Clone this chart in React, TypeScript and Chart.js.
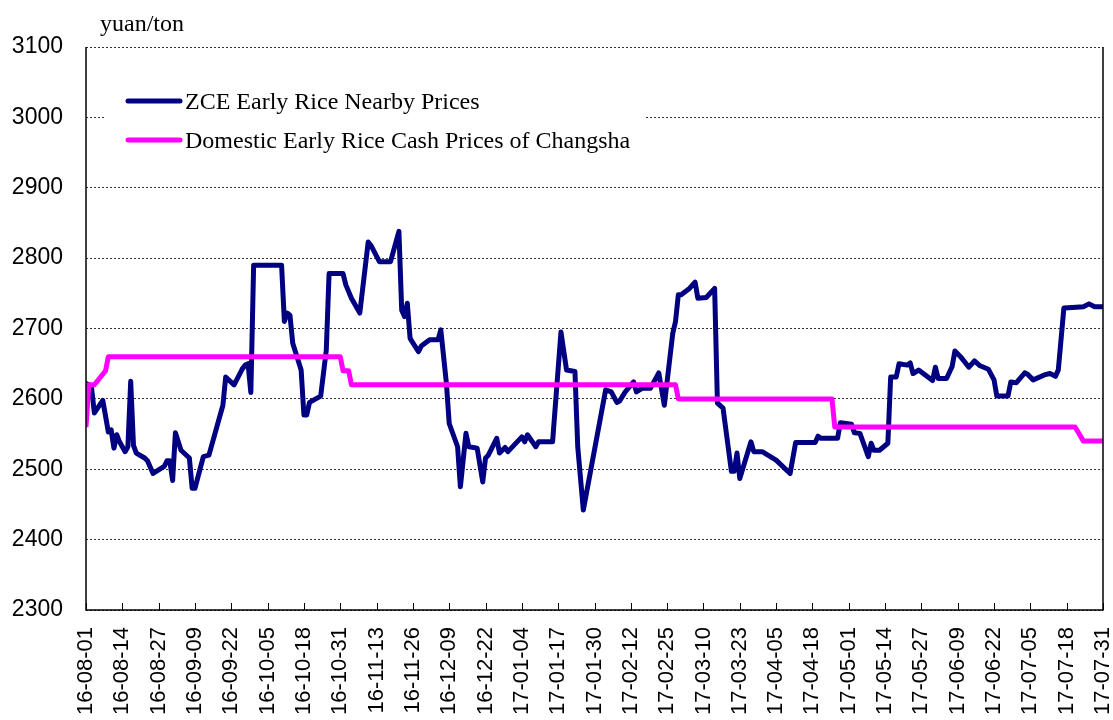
import React, { useEffect, useRef } from "react";
import { Chart, registerables } from "chart.js";

Chart.register(...registerables);

// Day offsets counted from 2016-08-01 (day 0) to 2017-07-31 (day 364)
const BASE_DATE = Date.UTC(2016, 7, 1);
const X_MAX_DAY = 364;
const X_TICK_STEP = 13;

const Y_MIN = 2300;
const Y_MAX = 3100;
const Y_STEP = 100;

const unitLabel = "yuan/ton";
const zceLabel = "ZCE Early Rice Nearby Prices";
const cashLabel = "Domestic Early Rice Cash Prices of Changsha";

const zceDays = [
  0, 1, 2, 3, 6, 8, 9, 10, 11, 12, 14, 15, 16, 17, 18, 21, 22, 24, 28, 29, 30, 31, 32, 34, 37, 38, 39, 42, 44,
  49, 50, 53, 56, 57, 58, 59, 60, 70, 71, 72, 73, 74, 77, 78, 79, 80, 84, 86, 87, 92, 93, 95, 98, 101, 102,
  105, 109, 112, 113, 114, 115, 116, 119, 120, 123, 126, 127, 129, 130, 133, 134, 136, 137, 140, 142, 143,
  144, 147, 148, 150, 151, 156, 157, 158, 161, 162, 167, 170, 172, 175, 176, 178, 186, 188, 190, 191, 193,
  196, 197, 199, 202, 205, 207, 210, 211, 212, 213, 216, 218, 219, 222, 225, 226, 228, 231, 232, 233, 234,
  238, 239, 242, 247, 252, 254, 261, 262, 263, 269, 270, 274, 275, 277, 280, 281, 282, 284, 287, 288, 290,
  291, 294, 295, 296, 298, 303, 304, 305, 308, 310, 311, 313, 316, 318, 320, 323, 325, 326, 330, 331, 333,
  336, 337, 339, 343, 345, 347, 348, 350, 353, 357, 359, 361, 364,
];
const zceValues = [
  2622, 2620, 2615, 2580, 2598, 2553, 2556, 2530, 2549, 2539, 2525, 2532, 2625, 2534, 2523, 2516, 2512, 2494,
  2504, 2512, 2512, 2484, 2552, 2527, 2516, 2473, 2473, 2518, 2520, 2591, 2631, 2620, 2643, 2648, 2650, 2609,
  2790, 2790, 2710, 2722, 2719, 2679, 2641, 2577, 2577, 2595, 2604, 2669, 2778, 2778, 2762, 2743, 2722, 2823,
  2818, 2795, 2795, 2838, 2726, 2717, 2736, 2686, 2667, 2675, 2684, 2684, 2698, 2622, 2565, 2532, 2475, 2551,
  2532, 2530, 2482, 2516, 2520, 2544, 2523, 2531, 2525, 2546, 2539, 2549, 2532, 2539, 2539, 2695, 2641, 2639,
  2532, 2442, 2613, 2610, 2595, 2597, 2610, 2624, 2610, 2615, 2615, 2637, 2591, 2693, 2710, 2748, 2748, 2757,
  2766, 2743, 2744, 2757, 2594, 2587, 2497, 2497, 2523, 2487, 2539, 2525, 2525, 2513, 2494, 2538, 2538, 2547,
  2544, 2544, 2566, 2564, 2552, 2551, 2518, 2537, 2527, 2527, 2537, 2631, 2631, 2650, 2648, 2651, 2636, 2641,
  2626, 2645, 2629, 2629, 2646, 2668, 2660, 2645, 2654, 2647, 2642, 2627, 2604, 2604, 2624, 2623, 2637, 2635,
  2627, 2634, 2636, 2632, 2641, 2729, 2730, 2731, 2735, 2731, 2731,
];

const cashDays = [0, 1, 3, 7, 8, 91, 92, 94, 95, 211, 212, 267, 268, 354, 357, 364];
const cashValues = [2560, 2620, 2620, 2640, 2660, 2660, 2640, 2640, 2620, 2620, 2600, 2600, 2560, 2560, 2540, 2540];

const NAVY = "#000080";
const MAGENTA = "#FF00FF";

function dayLabel(day: number): string {
  const d = new Date(BASE_DATE + day * 86400000);
  const yy = String(d.getUTCFullYear() % 100).padStart(2, "0");
  const mm = String(d.getUTCMonth() + 1).padStart(2, "0");
  const dd = String(d.getUTCDate()).padStart(2, "0");
  return `${yy}-${mm}-${dd}`;
}

const SERIF = '"Liberation Serif", "Times New Roman", serif';
const SANS = '"Liberation Sans", Arial, sans-serif';

const decorPlugin = {
  id: "decor",
  beforeDatasetsDraw(chart: any) {
    const ctx = chart.ctx;
    const { left } = chart.chartArea;
    ctx.save();
    // legend box (covers gridlines)
    ctx.fillStyle = "#ffffff";
    ctx.fillRect(left + 20, 62, 540, 110);
    const items = [
      { label: zceLabel, color: NAVY, y: 101 },
      { label: cashLabel, color: MAGENTA, y: 140 },
    ];
    ctx.font = `24px ${SERIF}`;
    ctx.textBaseline = "alphabetic";
    ctx.textAlign = "left";
    for (const it of items) {
      ctx.strokeStyle = it.color;
      ctx.lineWidth = 5;
      ctx.lineCap = "round";
      ctx.beginPath();
      ctx.moveTo(left + 42, it.y);
      ctx.lineTo(left + 94, it.y);
      ctx.stroke();
      ctx.fillStyle = "#000";
      ctx.fillText(it.label, left + 99, it.y + 8);
    }
    // unit label
    ctx.fillText(unitLabel, 100, 31);
    ctx.restore();
  },
  afterDatasetsDraw(chart: any) {
    const ctx = chart.ctx;
    const { left, right, top, bottom } = chart.chartArea;
    const xs = chart.scales.x;
    ctx.save();
    ctx.strokeStyle = "#000";
    ctx.lineWidth = 1.5;
    ctx.setLineDash([]);
    ctx.beginPath();
    ctx.moveTo(left, top);
    ctx.lineTo(left, bottom);
    ctx.lineTo(right, bottom);
    ctx.lineTo(right, top);
    ctx.stroke();
    ctx.lineWidth = 1;
    for (let d = 0; d <= X_MAX_DAY; d += X_TICK_STEP) {
      const px = Math.round(xs.getPixelForValue(d)) + 0.5;
      ctx.beginPath();
      ctx.moveTo(px, bottom);
      ctx.lineTo(px, bottom - 7);
      ctx.stroke();
    }
    ctx.restore();
  },
};

export default function App() {
  const ref = useRef<HTMLCanvasElement | null>(null);

  useEffect(() => {
    if (!ref.current) return;
    const zceData = zceDays.map((d, i) => ({ x: d, y: zceValues[i] }));
    const cashData = cashDays.map((d, i) => ({ x: d, y: cashValues[i] }));
    const chart = new Chart(ref.current, {
      type: "line",
      data: {
        datasets: [
          {
            label: cashLabel,
            data: cashData,
            borderColor: MAGENTA,
            backgroundColor: MAGENTA,
            borderWidth: 5,
            pointRadius: 0,
            tension: 0,
            borderJoinStyle: "round",
          },
          {
            label: zceLabel,
            data: zceData,
            borderColor: NAVY,
            backgroundColor: NAVY,
            borderWidth: 5,
            pointRadius: 0,
            tension: 0,
            borderJoinStyle: "round",
            borderCapStyle: "round",
          },
        ],
      },
      options: {
        responsive: false,
        animation: false,
        layout: { padding: { top: 47, right: 10, left: 0, bottom: 0 } },
        plugins: {
          legend: { display: false },
          tooltip: { enabled: false },
          title: { display: false },
        },
        scales: {
          x: {
            type: "linear",
            min: 0,
            max: X_MAX_DAY,
            grid: { display: false, drawTicks: false },
            border: { display: false },
            ticks: {
              stepSize: X_TICK_STEP,
              autoSkip: false,
              maxRotation: 90,
              minRotation: 90,
              padding: 17,
              color: "#000",
              font: { family: SANS, size: 22 },
              callback: (v: any) => dayLabel(Number(v)),
            },
            afterFit: (s: any) => {
              s.height = 110;
              s.paddingLeft = 0;
              s.paddingRight = 0;
            },
          },
          y: {
            min: Y_MIN,
            max: Y_MAX,
            grid: {
              color: "#333",
              lineWidth: 1,
              drawTicks: false,
              borderDash: [2, 2],
            } as any,
            border: { display: false, dash: [2, 2] },
            ticks: {
              stepSize: Y_STEP,
              padding: 23,
              color: "#000",
              font: { family: SANS, size: 23 },
              callback: (v: any) => String(v),
            },
            afterFit: (s: any) => {
              s.width = 86;
            },
          },
        },
      },
      plugins: [decorPlugin],
    });
    return () => chart.destroy();
  }, []);

  return (
    <div style={{ position: "absolute", left: 0, top: 0, width: 1113, height: 720, background: "#fff" }}>
      <canvas ref={ref} width={1113} height={720} style={{ display: "block" }} />
    </div>
  );
}
